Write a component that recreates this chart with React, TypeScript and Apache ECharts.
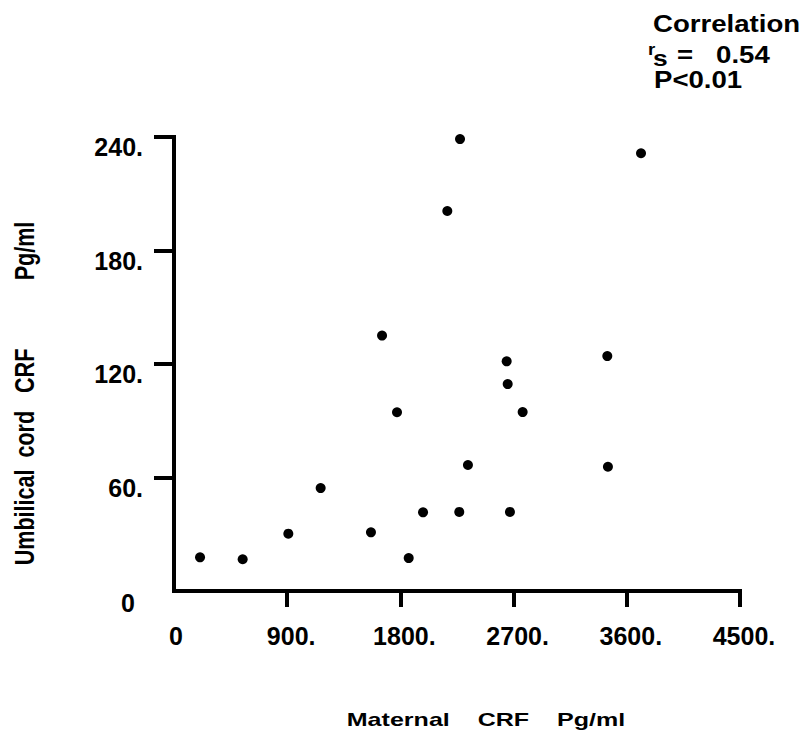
import React, { useEffect, useRef } from "react";
import * as echarts from "echarts";

const maternalCRF = [207, 546, 909, 1166, 1566, 1654, 1773, 1866, 1980, 2173, 2268, 2274, 2337, 2645, 2653, 2671, 2772, 3445, 3450, 3713];
const umbilicalCRF = [17.8, 16.8, 30.3, 54.4, 31.0, 135.0, 94.5, 17.4, 41.6, 200.9, 41.8, 238.9, 66.6, 121.4, 109.4, 41.8, 94.6, 124.2, 65.7, 231.4];
const xTicks = [0, 900, 1800, 2700, 3600, 4500];
const yTicks = [0, 60, 120, 180, 240];
const xName = "Maternal    CRF    Pg/ml";
const yNameMain = "Umbilical  cord   CRF";
const yNameUnit = "Pg/ml";
const statTitle = "Correlation";
const statR = "r";
const statS = "s";
const statValue = "=   0.54";
const statP = "P<0.01";

const FONT = "'Liberation Sans', Arial, Helvetica, sans-serif";

export default function App() {
  const ref = useRef<HTMLDivElement>(null);
  useEffect(() => {
    if (!ref.current) return;
    const chart = echarts.init(ref.current, undefined, { renderer: "svg" });
    const points = maternalCRF.map((x, i) => [x, umbilicalCRF[i]]);
    const labelStyle = { fontFamily: FONT, fontSize: 25, fontWeight: "bold" as const, color: "#000" };
    const textStyle = (size: number) => ({ font: `bold ${size}px ${FONT}`, fill: "#000" });
    chart.setOption({
      animation: false,
      backgroundColor: "#fff",
      grid: { left: 174, right: 67, top: 137, bottom: 152, containLabel: false },
      xAxis: {
        type: "value",
        min: 0,
        max: 4500,
        interval: 900,
        splitLine: { show: false },
        axisLine: { show: true, lineStyle: { color: "#000", width: 4, cap: "square" } },
        axisTick: { show: true, length: 16, customValues: xTicks.slice(1), lineStyle: { color: "#000", width: 4 } },
        axisLabel: {
          show: true,
          margin: 32,
          customValues: xTicks,
          formatter: (v: number) => (v === 0 ? `{z|0}` : `{a|${v}.}`),
          rich: {
            a: { ...labelStyle, padding: [0, 0, 0, 8] },
            z: { ...labelStyle, padding: [0, 0, 0, 4] },
          },
        },
      },
      yAxis: {
        type: "value",
        min: 0,
        max: 240,
        interval: 60,
        splitLine: { show: false },
        axisLine: { show: true, lineStyle: { color: "#000", width: 4, cap: "square" } },
        axisTick: { show: true, length: 20, customValues: yTicks.slice(1), lineStyle: { color: "#000", width: 4 } },
        axisLabel: {
          show: true,
          margin: 31,
          customValues: yTicks,
          formatter: (v: number) => (v === 0 ? `{z|0}` : `{a|${v}.}`),
          rich: {
            a: { ...labelStyle, padding: [20, 0, 0, 0] },
            z: { ...labelStyle, padding: [24, 8, 0, 0] },
          },
        },
      },
      series: [
        {
          type: "scatter",
          data: points,
          symbol: "circle",
          symbolSize: 10,
          itemStyle: { color: "#000", opacity: 1 },
        },
      ],
      graphic: [
        {
          type: "text",
          x: 486,
          y: 720,
          scaleX: 1.32,
          style: { ...textStyle(19), text: xName, align: "center", verticalAlign: "middle" },
        },
        {
          type: "text",
          x: 23.5,
          y: 457,
          rotation: Math.PI / 2,
          scaleX: 0.77,
          style: { ...textStyle(28), text: yNameMain, align: "center", verticalAlign: "middle" },
        },
        {
          type: "text",
          x: 23.5,
          y: 251,
          rotation: Math.PI / 2,
          scaleX: 0.77,
          style: { ...textStyle(28), text: yNameUnit, align: "center", verticalAlign: "middle" },
        },
        {
          type: "text",
          x: 653,
          y: 23.5,
          scaleX: 1.2,
          style: { ...textStyle(23), text: statTitle, align: "left", verticalAlign: "middle" },
        },
        {
          type: "text",
          x: 648,
          y: 49,
          scaleX: 1.1,
          style: { ...textStyle(17), text: statR, align: "left", verticalAlign: "middle" },
        },
        {
          type: "text",
          x: 653,
          y: 58,
          scaleX: 1.2,
          style: { ...textStyle(22), text: statS, align: "left", verticalAlign: "middle" },
        },
        {
          type: "text",
          x: 677,
          y: 55,
          scaleX: 1.2,
          style: { ...textStyle(23), text: statValue, align: "left", verticalAlign: "middle" },
        },
        {
          type: "text",
          x: 654,
          y: 80,
          scaleX: 1.2,
          style: { ...textStyle(23), text: statP, align: "left", verticalAlign: "middle" },
        },
      ],
    });
    return () => chart.dispose();
  }, []);
  return (
    <div
      ref={ref}
      style={{ position: "fixed", left: 0, top: 0, width: 807, height: 743, background: "#fff" }}
    />
  );
}
